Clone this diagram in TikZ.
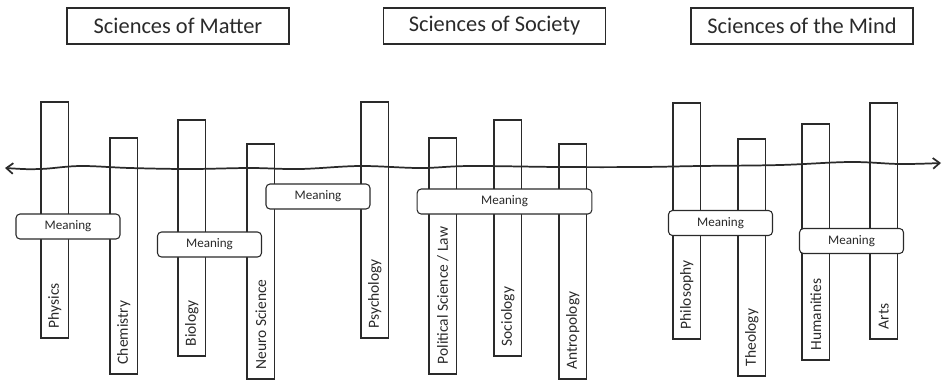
\documentclass[tikz,border=0pt]{standalone}
\usepackage{fontspec}
\setmainfont{Carlito}
\usetikzlibrary{positioning, fit, arrows.meta}
\definecolor{ink}{HTML}{2A2A2A}
\tikzset{
header/.style={draw=ink, line width=0.9pt, minimum width=166.5pt, minimum height=27pt, text=ink, font=\fontsize{16.8}{20}\selectfont}, % the three group titles
discipline/.style={draw=ink, line width=0.8pt, inner sep=0pt}, % one column per discipline
subject/.style={rotate=90, anchor=west, inner sep=0pt, text=ink, font=\fontsize{11.6}{14}\selectfont}, % rotated column label
meaning/.style={draw=ink, fill=white, line width=0.8pt, rounded corners=3pt, minimum width=78pt, minimum height=18.75pt, text=ink, font=\fontsize{9.8}{12}\selectfont}, % the cross bars
timeline/.style={draw=ink, line width=1.3pt, {Straight Barb[length=5pt,width=8pt]}-{Straight Barb[length=5pt,width=8pt]}}, % wavy double arrow
}
\begin{document}
\begin{tikzpicture}[x=0.75pt, y=-0.75pt]
\useasboundingbox (0,0) rectangle (945,380);

% group titles
\node[header] (matter) at (178,26) {Sciences of Matter};
\node[header] (society) at (494.5,26) {Sciences of Society};
\node[header] (mind) at (802,26) {Sciences of the Mind};

% the wavy line through everything
\coordinate (past) at (5,168);
\coordinate (future) at (941,163);
\draw[timeline] plot[smooth, tension=0.6] coordinates {(past) (40,169) (80,166) (130,168) (190,169) (250,168) (300,169) (360,166) (420,168) (470,166) (560,167) (640,167) (700,166) (780,165) (850,162) (900,164) (future)};

% columns
\foreach \name/\x/\top/\bot/\subj in {
    phys/41/102/338/Physics,
    chem/110/138/374/Chemistry,
    bio/178/120/356/Biology,
    neuro/247/144/379/{Neuro Science},
    psych/361/102/338/Psychology,
    pol/429/138/374/{Political Science / Law},
    soc/494/120/356/Sociology,
    anthro/559/144/379/Antropology,
    phil/673/103/339/Philosophy,
    theo/738/139/376/Theology,
    hum/802/124/360/Humanities,
    arts/870/103/339/Arts}
{
    \node[discipline, fit={(\x,\top) (\x+27.5,\bot)}] (\name) {};
    \node[subject] (\name-label) at ([yshift=7.5pt]\name.south) {\subj};
}

% meaning bars
\node[meaning] (meaning1) at (68,226.5) {Meaning};
\node[meaning] (meaning2) at (209.5,244.5) {Meaning};
\node[meaning] (meaning3) at (318,196.5) {Meaning};
\node[meaning, minimum width=131pt] (meaning4) at (504.5,201.5) {Meaning};
\node[meaning] (meaning5) at (720.5,223) {Meaning};
\node[meaning] (meaning6) at (851.5,241) {Meaning};
\end{tikzpicture}
\end{document}
